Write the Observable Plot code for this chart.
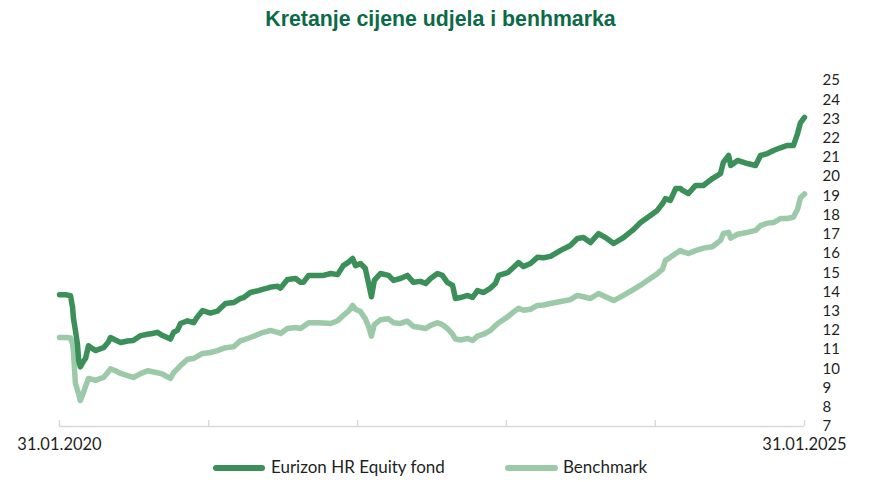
<!DOCTYPE html>
<html><head><meta charset="utf-8">
<script src="https://cdn.jsdelivr.net/npm/d3@7"></script>
<script src="https://cdn.jsdelivr.net/npm/@observablehq/plot@0.6"></script>
<style>
body{margin:0;background:#fff;}
#wrap{position:relative;width:869px;height:482px;font-family:Lato,sans-serif;color:#1f1f1f;}
#title{position:absolute;left:6px;top:0;width:869px;text-align:center;font-weight:bold;font-size:21.3px;font-family:"Liberation Sans",Arial,sans-serif;color:#0b6a47;line-height:38px;}
#chart{position:absolute;left:0;top:40px;}
.sw{position:absolute;height:5.5px;border-radius:3px;top:465px;}
.lt{position:absolute;top:457px;font-size:17px;line-height:20px;white-space:nowrap;}
</style></head>
<body>
<div id="wrap">
  <div id="title"></div>
  <div id="chart"></div>
  <div id="legend"></div>
</div>
<script>
const titleText = "Kretanje cijene udjela i benhmarka";
const seriesNames = ["Eurizon HR Equity fond", "Benchmark"];
const seriesColors = ["#3b8f58", "#9cc9a8"];
const dates = [
"2020-01-31","2020-02-17","2020-02-27","2020-03-03","2020-03-05","2020-03-10","2020-03-15","2020-03-18","2020-03-22","2020-03-30",
"2020-04-04","2020-04-11","2020-04-21","2020-04-28","2020-05-11","2020-05-18","2020-05-30","2020-06-04","2020-06-16","2020-06-29",
"2020-07-16","2020-07-30","2020-08-17","2020-09-03","2020-09-15","2020-09-27","2020-10-10","2020-10-29","2020-11-06","2020-11-15",
"2020-11-23","2020-12-10","2020-12-25","2021-01-03","2021-01-16","2021-02-04","2021-02-21","2021-03-13","2021-04-02","2021-04-19",
"2021-04-26","2021-05-13","2021-06-02","2021-06-14","2021-06-24","2021-07-01","2021-07-19","2021-07-26","2021-08-12","2021-09-01",
"2021-09-13","2021-09-20","2021-10-03","2021-10-25","2021-11-08","2021-11-26","2021-12-13","2021-12-27","2022-01-09","2022-01-19",
"2022-01-26","2022-02-07","2022-02-19","2022-02-27","2022-03-06","2022-03-13","2022-03-28","2022-04-17","2022-04-29","2022-05-16",
"2022-06-02","2022-06-17","2022-07-04","2022-07-17","2022-07-29","2022-08-15","2022-08-27","2022-09-08","2022-09-21","2022-09-28",
"2022-10-10","2022-10-28","2022-11-09","2022-11-21","2022-12-06","2022-12-23","2023-01-04","2023-01-12","2023-02-03","2023-02-17",
"2023-03-02","2023-03-14","2023-03-31","2023-04-17","2023-05-02","2023-05-19","2023-06-13","2023-07-07","2023-07-24","2023-08-08",
"2023-08-25","2023-09-14","2023-10-01","2023-10-21","2023-11-14","2023-12-06","2023-12-26","2024-01-19","2024-02-05","2024-02-18",
"2024-02-25","2024-03-08","2024-03-21","2024-04-02","2024-04-07","2024-04-21","2024-05-09","2024-05-28","2024-06-19","2024-07-09",
"2024-07-16","2024-07-29","2024-08-03","2024-08-20","2024-09-13","2024-10-03","2024-10-15","2024-11-01","2024-11-16","2024-12-03",
"2024-12-20","2025-01-04","2025-01-14","2025-01-21","2025-01-31"];
const fund = [
13.85,13.85,13.8,13.2,12.67,12.0,11.3,10.43,10.1,10.4,
10.54,11.2,11.05,10.95,11.05,11.1,11.4,11.63,11.5,11.37,
11.45,11.47,11.73,11.8,11.84,11.9,11.73,11.55,11.9,12.0,
12.36,12.5,12.4,12.7,13.03,12.9,13.0,13.4,13.45,13.66,
13.7,13.97,14.07,14.15,14.2,14.25,14.3,14.2,14.65,14.7,
14.5,14.5,14.86,14.86,14.86,14.96,14.9,15.37,15.55,15.74,
15.37,15.48,15.22,14.44,13.75,14.6,14.96,14.86,14.6,14.7,
14.86,14.5,14.55,14.44,14.7,14.96,14.86,14.5,14.34,13.66,
13.71,13.82,13.71,14.07,13.97,14.2,14.44,14.86,15.0,15.27,
15.53,15.32,15.48,15.8,15.78,15.85,16.16,16.42,16.78,16.83,
16.57,17.04,16.83,16.52,16.83,17.2,17.61,17.98,18.24,18.6,
18.86,18.76,19.38,19.38,19.28,19.12,19.54,19.54,19.9,20.16,
20.74,21.1,20.58,20.84,20.68,20.58,21.1,21.2,21.36,21.5,
21.62,21.62,22.24,22.8,23.08];
const bench = [
11.63,11.63,11.6,11.3,10.95,9.24,8.9,8.7,8.35,8.77,
9.1,9.5,9.45,9.4,9.5,9.55,9.85,10.0,9.9,9.76,
9.65,9.55,9.75,9.9,9.85,9.8,9.72,9.5,9.8,10.0,
10.17,10.5,10.54,10.65,10.8,10.85,10.95,11.1,11.15,11.47,
11.5,11.63,11.8,11.9,11.95,12.0,11.9,11.84,12.1,12.15,
12.1,12.2,12.4,12.4,12.38,12.36,12.5,12.78,13.0,13.3,
13.1,12.98,12.6,12.2,11.7,12.3,12.55,12.6,12.4,12.36,
12.48,12.2,12.15,12.1,12.26,12.4,12.3,12.1,11.8,11.55,
11.5,11.58,11.47,11.7,11.8,12.0,12.25,12.4,12.7,12.95,
13.15,13.05,13.1,13.3,13.32,13.4,13.5,13.6,13.82,13.75,
13.66,13.92,13.75,13.55,13.82,14.1,14.35,14.7,14.95,15.2,
15.64,15.8,16.0,16.16,16.1,16.0,16.15,16.28,16.35,16.68,
17.04,17.1,16.8,17.0,17.1,17.2,17.45,17.58,17.61,17.82,
17.82,17.9,18.3,18.9,19.1];
const yTicks = [7,8,9,10,11,12,13,14,15,16,17,18,19,20,21,22,23,24,25];
const xTickDates = ["2020-01-31","2021-01-31","2022-01-31","2023-01-31","2024-01-31","2025-01-31"];
const xLabelDates = ["2020-01-31","2025-01-31"];
const xLabels = ["31.01.2020","31.01.2025"];

const parse = d3.utcParse("%Y-%m-%d");
const rows = [];
dates.forEach((d, i) => {
  rows.push({date: parse(d), value: bench[i], series: seriesNames[1]});
});
dates.forEach((d, i) => {
  rows.push({date: parse(d), value: fund[i], series: seriesNames[0]});
});
const labelRows = xLabelDates.map((d, i) => ({date: parse(d), label: xLabels[i]}));

document.getElementById("title").textContent = titleText;

const chart = Plot.plot({
  width: 869,
  height: 418,
  marginLeft: 59,
  marginRight: 65,
  marginTop: 40,
  marginBottom: 32,
  style: {fontFamily: "Lato, sans-serif", fontSize: "15px", color: "#1f1f1f", background: "transparent"},
  x: {type: "utc", domain: [parse(xTickDates[0]), parse(xTickDates[5])]},
  y: {domain: [7, 25]},
  color: {domain: seriesNames, range: seriesColors},
  marks: [
    Plot.ruleY([7], {stroke: "#d9d9d9", strokeWidth: 1.5}),
    Plot.axisX({ticks: xTickDates.map(parse), tickSize: -6, text: null, stroke: "#d9d9d9", strokeWidth: 1.5, label: null}),
    Plot.text(labelRows, {x: "date", text: "label", frameAnchor: "bottom", dy: 23, fontSize: 16.5, fill: "#1f1f1f"}),
    Plot.axisY({anchor: "right", ticks: yTicks, tickSize: 0, tickPadding: 18, textAnchor: "start", label: null, fontSize: 15, fill: "#1f1f1f"}),
    Plot.line(rows, {x: "date", y: "value", z: "series", stroke: "series", strokeWidth: 5.5, strokeLinejoin: "round", strokeLinecap: "round"})
  ]
});
document.getElementById("chart").appendChild(chart);

const legend = document.getElementById("legend");
const swLeft = [213, 505], swW = [52, 53], txtLeft = [271, 563];
seriesNames.forEach((name, i) => {
  const s = document.createElement("div");
  s.className = "sw";
  s.style.left = swLeft[i] + "px";
  s.style.width = swW[i] + "px";
  s.style.background = seriesColors[i];
  legend.appendChild(s);
  const t = document.createElement("div");
  t.className = "lt";
  t.style.left = txtLeft[i] + "px";
  t.textContent = name;
  legend.appendChild(t);
});
</script>
</body></html>
